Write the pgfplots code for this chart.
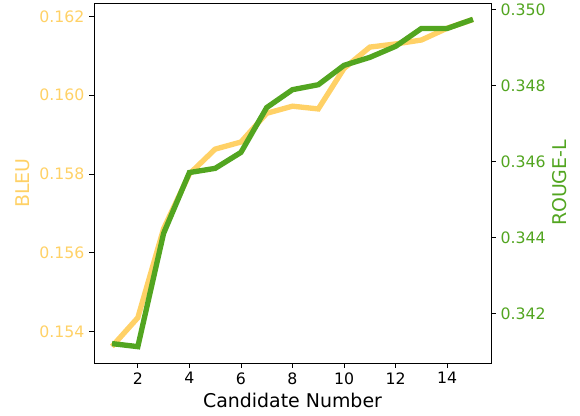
\documentclass[border=0pt]{standalone}
\usepackage{fontspec}
\setmainfont{DejaVu Sans}
\usepackage{pgfplots}
\pgfplotsset{compat=1.18}
\definecolor{bleu}{HTML}{FFD166}
\definecolor{rouge}{HTML}{52A520}
\begin{document}
\begin{tikzpicture}
\pgfplotsset{
  common/.style={
    scale only axis, width=297.75pt, height=270pt,
    xmin=0.3, xmax=15.7, at={(0,0)}, anchor=south west,
    tick style={black, line width=0.6pt},
    major tick length=3.6pt,
    tick align=outside,
    axis line style={line width=0.6pt},
    tick label style={font=\fontsize{11.8}{14}\selectfont},
    label style={font=\fontsize{14.2}{17}\selectfont},
    /pgf/number format/assume math mode=true,
    scaled y ticks=false,
    yticklabel style={/pgf/number format/fixed, /pgf/number format/fixed zerofill, /pgf/number format/precision=3},
  }
}
\begin{axis}[common,
  ymin=0.1532, ymax=0.16234,
  xtick={2,4,...,14}, xtick pos=bottom, ytick pos=left,
  ytick={0.154,0.156,0.158,0.160,0.162},
  yticklabel style={text=bleu},
  ylabel={BLEU}, ylabel style={text=bleu, at={(axis description cs:-0.179,0.5)}, anchor=center},
  xlabel={Candidate Number}, xlabel style={at={(axis description cs:0.5,-0.103)}, anchor=center},
]
\addplot[bleu, line width=4pt] coordinates {
(1,0.15362) (2,0.15435) (3,0.15661) (4,0.15800) (5,0.15863)
(6,0.15881) (7,0.15954) (8,0.15972) (9,0.15965) (10,0.16068)
(11,0.16122) (12,0.16130) (13,0.16140) (14,0.16170) (15,0.16192)};
\end{axis}
\begin{axis}[common,
  ymin=0.3407, ymax=0.35017,
  axis x line=none, axis y line*=right, ytick pos=right,
  ytick={0.342,0.344,0.346,0.348,0.350},
  yticklabel style={text=rouge},
  ylabel={ROUGE-L}, ylabel style={text=rouge, at={(axis description cs:1.174,0.5)}, anchor=center, rotate=0},
]
\addplot[rouge, line width=4pt] coordinates {
(1,0.34121) (2,0.34113) (3,0.34411) (4,0.34571) (5,0.34582)
(6,0.34624) (7,0.34742) (8,0.34789) (9,0.34802) (10,0.34853)
(11,0.34874) (12,0.34903) (13,0.34950) (14,0.34950) (15,0.34974)};
\end{axis}
\pgfresetboundingbox
\path[use as bounding box] (-70.5pt,-39.75pt) rectangle (364.5pt,272.25pt);
\end{tikzpicture}
\end{document}
